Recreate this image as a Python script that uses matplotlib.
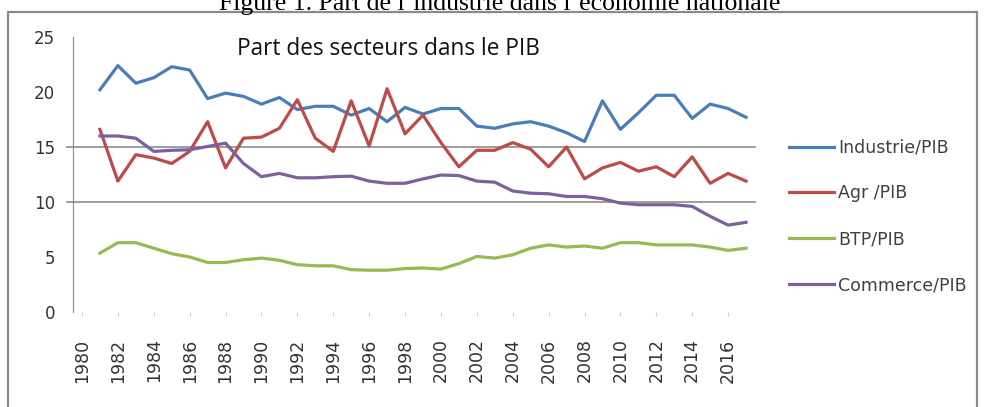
import numpy as np
import matplotlib
matplotlib.use('Agg')
import matplotlib.pyplot as plt
from matplotlib.patches import Rectangle

# donnees (1981-2017)
annees = list(range(1981, 2018))

industrie = [20.2, 22.4, 20.8, 21.3, 22.3, 22.0, 19.4, 19.9, 19.6, 18.9, 19.5, 18.4,
             18.7, 18.7, 17.9, 18.5, 17.3, 18.6, 18.0, 18.5, 18.5, 16.9, 16.7, 17.1,
             17.3, 16.9, 16.3, 15.5, 19.2, 16.6, 18.1, 19.7, 19.7, 17.6, 18.9, 18.5, 17.7]
agr = [16.6, 11.9, 14.3, 14.0, 13.5, 14.6, 17.3, 13.1, 15.8, 15.9, 16.7, 19.3,
       15.8, 14.6, 19.2, 15.1, 20.3, 16.2, 17.9, 15.4, 13.2, 14.7, 14.7, 15.4,
       14.8, 13.2, 15.0, 12.1, 13.1, 13.6, 12.8, 13.2, 12.3, 14.1, 11.7, 12.6, 11.9]
btp = [5.35, 6.3, 6.3, 5.8, 5.3, 5.0, 4.5, 4.5, 4.75, 4.9, 4.7, 4.3,
       4.2, 4.2, 3.85, 3.8, 3.8, 3.95, 4.0, 3.9, 4.4, 5.05, 4.9, 5.2,
       5.8, 6.1, 5.9, 6.0, 5.8, 6.3, 6.3, 6.1, 6.1, 6.1, 5.9, 5.6, 5.8]
commerce = [16.0, 16.0, 15.8, 14.6, 14.7, 14.75, 15.05, 15.35, 13.5, 12.3, 12.6, 12.2,
            12.2, 12.3, 12.35, 11.9, 11.7, 11.7, 12.1, 12.45, 12.4, 11.9, 11.8, 11.0,
            10.8, 10.75, 10.5, 10.5, 10.3, 9.9, 9.75, 9.75, 9.75, 9.6, 8.7, 7.9, 8.15]

series = [("Industrie/PIB", industrie, "#4a7ebb"),
          ("Agr /PIB", agr, "#be4b48"),
          ("BTP/PIB", btp, "#98b954"),
          ("Commerce/PIB", commerce, "#7d60a0")]

W, H = 985, 407
fig = plt.figure(figsize=(W / 100, H / 100), dpi=100)

def fx(px):
    return px / W

def fy(py):
    return 1 - py / H

# cadre autour du graphique
fig.patches.append(Rectangle((fx(8), fy(430)), fx(969), fy(12) - fy(430),
                             transform=fig.transFigure, fill=False,
                             edgecolor="#8a8a8a", lw=1.6))

# legende de la figure, coupee en haut comme sur l'original
fig.text(fx(500), fy(10), "Figure 1. Part de l\u2019industrie dans l\u2019\u00e9conomie nationale",
         family="Liberation Serif", fontsize=18.5, ha="center", va="baseline")

ax = fig.add_axes([fx(73), fy(312), fx(755) - fx(73), fy(37) - fy(312)])

for nom, vals, col in series:
    ax.plot(annees, vals, color=col, lw=2.3, label=nom, solid_joinstyle="round")

ax.set_xlim(1979.5, 2017.5)
ax.set_ylim(0, 25)

for g in [10, 15]:
    ax.axhline(g, xmin=-0.009, xmax=1.0, color="#8c8c8c", lw=1.2, clip_on=False, zorder=0)

for s in ["top", "right", "bottom"]:
    ax.spines[s].set_visible(False)
ax.spines["left"].set_color("#8c8c8c")

ax.set_yticks(range(0, 26, 5))
ax.tick_params(axis="y", length=0, pad=13, labelsize=12, labelcolor="#333333")
ax.set_xticks(range(1980, 2017, 2))
ax.set_xticklabels([str(a) for a in range(1980, 2017, 2)], rotation=90)
ax.tick_params(axis="x", length=3, color="#cccccc", pad=16, labelsize=12.5,
               labelcolor="#333333")
for lab in ax.get_xticklabels() + ax.get_yticklabels():
    lab.set_family("DejaVu Sans")
for lab in ax.get_xticklabels():
    lab.set_va("top")

fig.text(fx(388), fy(55), "Part des secteurs dans le PIB", family="Open Sans",
         fontsize=16.3, ha="center", va="baseline", color="#111111")

fig.legend(loc="upper left", bbox_to_anchor=(fx(780), fy(130)), frameon=False,
           borderpad=0, handlelength=2.6, handletextpad=0.25, labelspacing=1.6,
           prop={"family": "DejaVu Sans", "size": 12.5}, labelcolor="#404040")

fig.savefig("out.png", dpi=100)
